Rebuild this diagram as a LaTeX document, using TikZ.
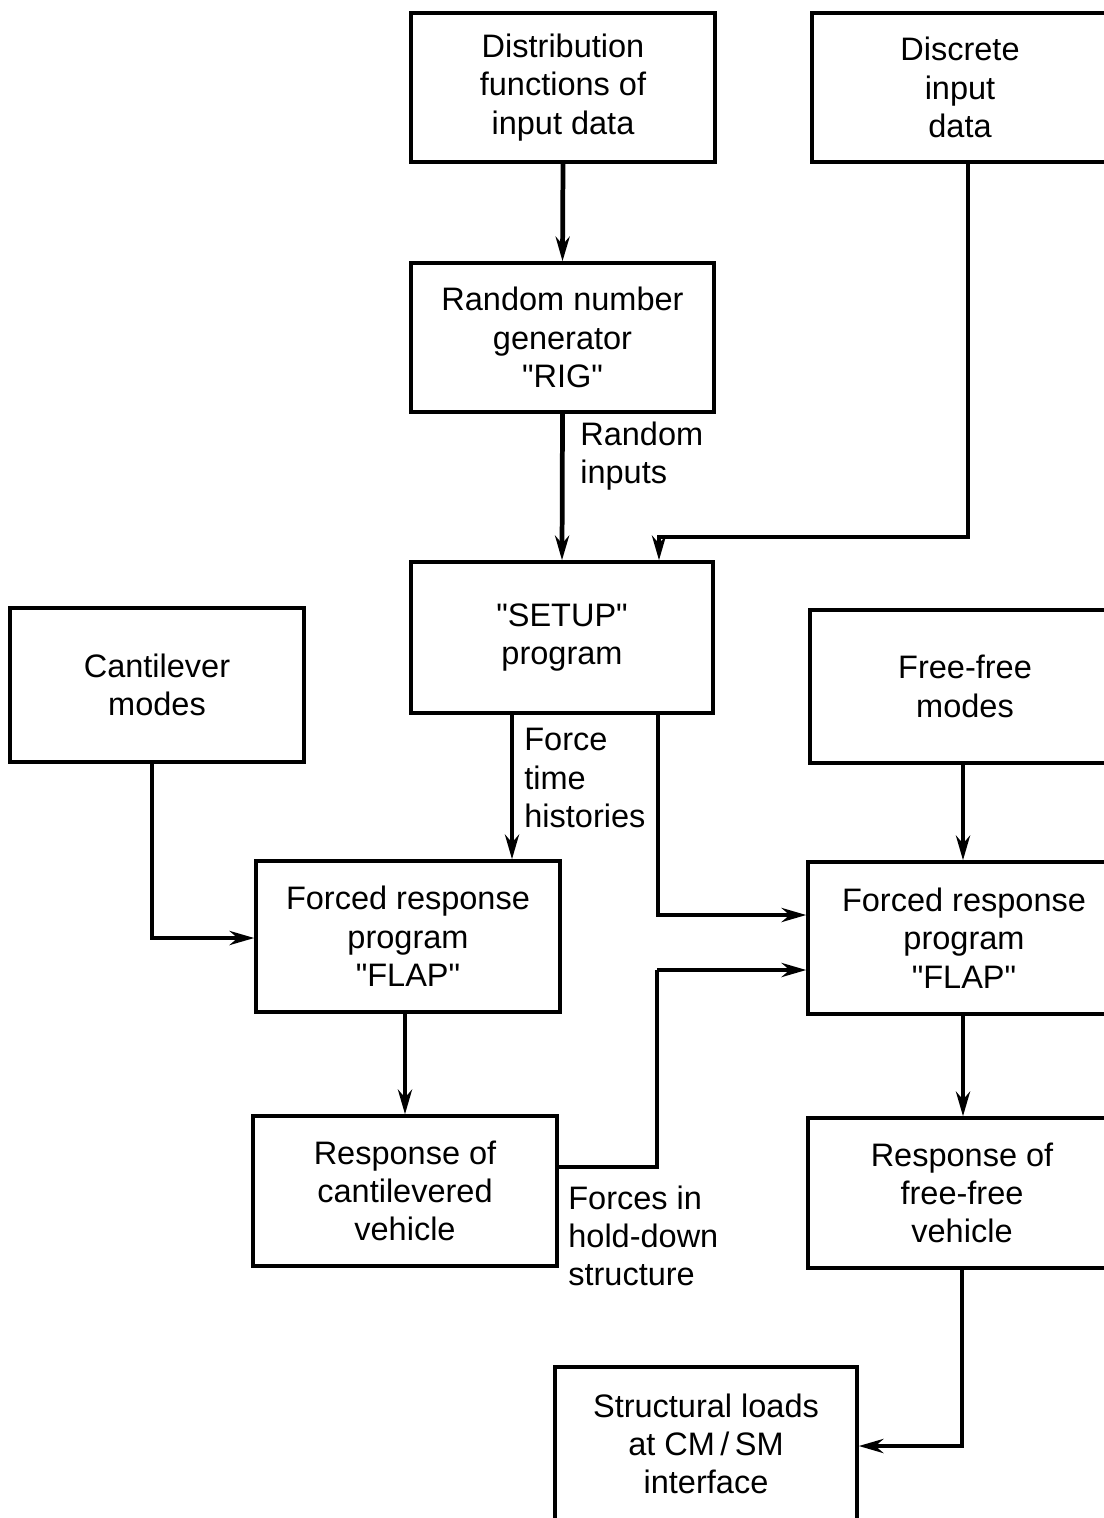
\documentclass[tikz,border=0pt]{standalone}
\usepackage{fontspec}
\setmainfont{Liberation Sans}[Ligatures=TeXOff]
\usetikzlibrary{arrows.meta}
\begin{document}
\begin{tikzpicture}[x=0.02cm,y=-0.02cm,
  box/.style={draw, line width=2pt, inner sep=0pt, align=center,
    font=\fontsize{18.5}{21.8}\selectfont},
  lbl/.style={inner sep=0pt, align=left, font=\fontsize{18.5}{21.8}\selectfont},
  arr/.style={line width=2.7pt, -{Stealth[length=14pt,width=8pt]}},
  ln/.style={line width=2.7pt}]
\useasboundingbox (0,0) rectangle (1104,1518);
\node[box, minimum width=6.08cm, minimum height=2.98cm] (dist) at (563,87.5) {Distribution\\functions of\\input data};
\node[box, minimum width=5.92cm, minimum height=2.98cm] (disc) at (960,87.5) {Discrete\\input\\data};
\node[box, minimum width=6.06cm, minimum height=2.98cm] (rig) at (562.5,337.5) {Random number\\generator\\"RIG"};
\node[box, minimum width=6.04cm, minimum height=3.02cm] (setup) at (562,637.5) {"SETUP"\\program};
\node[box, minimum width=5.88cm, minimum height=3.08cm] (cant) at (157,685) {Cantilever\\modes};
\node[box, minimum width=6.2cm, minimum height=3.06cm] (ffm) at (965,686.5) {Free-free\\modes};
\node[box, minimum width=6.08cm, minimum height=3.02cm] (fl) at (408,936.5) {Forced response\\program\\"FLAP"};
\node[box, minimum width=6.24cm, minimum height=3.04cm] (fr) at (964,938) {Forced response\\program\\"FLAP"};
\node[box, minimum width=6.08cm, minimum height=3.0cm] (rc) at (405,1191) {Response of\\cantilevered\\vehicle};
\node[box, minimum width=6.16cm, minimum height=3.0cm] (rf) at (962,1193) {Response of\\free-free\\vehicle};
\node[box, minimum width=6.04cm, minimum height=3.08cm] (sl) at (706,1444) {Structural loads\\at CM\,/\,SM\\interface};
% labels
\node[lbl, anchor=west] (l1) at (580,456) {Random\\inputs};
\node[lbl, anchor=west] (l2) at (524,778) {Force\\time\\histories};
\node[lbl, anchor=west] (l3) at (568,1236) {Forces in\\hold-down\\structure};
% junction coordinates
\coordinate (j1) at (659,537);
\coordinate (j2) at (658,915);
\coordinate (j3) at (152,938);
\coordinate (j4) at (657,970);
\coordinate (j5) at (962,1446);
% connectors
\draw[arr] (dist.south) -- (rig.north);
\draw[arr] ([xshift=0.16cm]disc.south) |- (j1) -- (j1 |- setup.north);
\draw[arr] (rig.south) -- (setup.north);
\draw[arr] (setup.south -| l2.west) ++(-0.24cm,0) coordinate (s1) -- (s1 |- fl.north);
\draw[arr] (j2 |- setup.south) -- (j2) -- (j2 -| fr.west);
\draw[arr] (j3 |- cant.south) -- (j3) -- (j3 -| fl.west);
\draw[arr] (ffm.south -| 963,0) -- (fr.north -| 963,0);
\draw[arr] (fl.south -| 405,0) -- (rc.north);
\draw[ln] (rc.east |- 0,1167) -| (j4);
\draw[arr] (j4) -- (j4 -| fr.west);
\draw[arr] (fr.south -| 963,0) -- (rf.north -| 963,0);
\draw[arr] (rf.south) -- (j5) -- (j5 -| sl.east);
\end{tikzpicture}
\end{document}
